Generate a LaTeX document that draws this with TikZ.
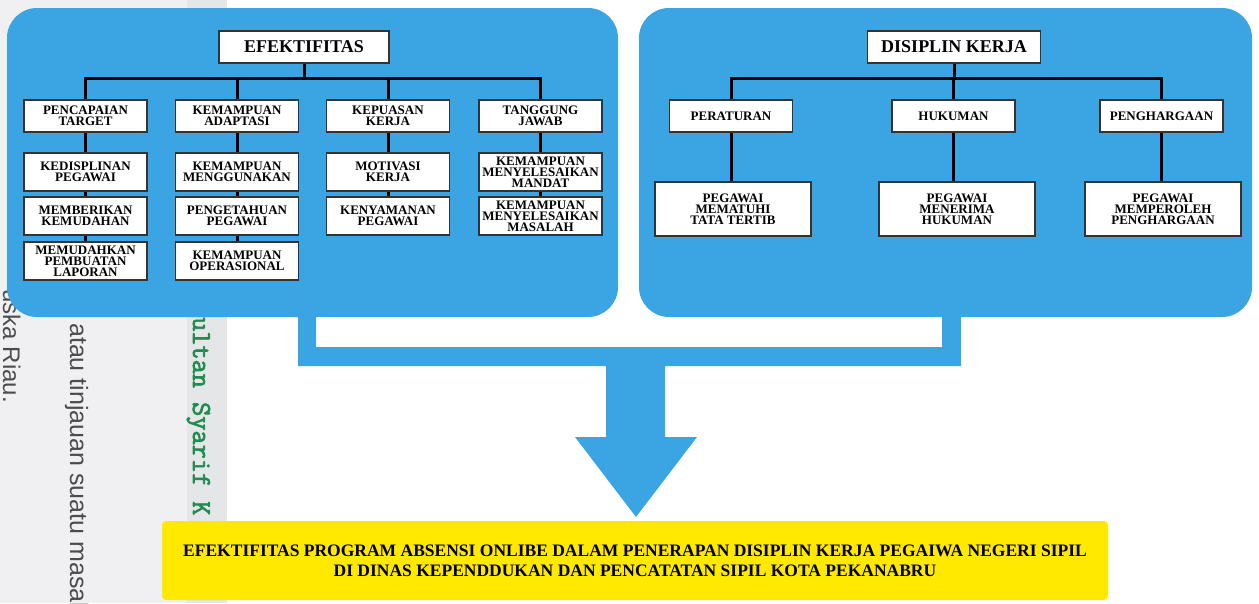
\documentclass[tikz,border=0pt]{standalone}
\usepackage{fontspec}
\setmainfont{Liberation Serif}
\setsansfont{Liberation Sans}
\newfontfamily\univfont[FakeBold=2.5]{Latin Modern Mono}
\usepackage{tikz}

\definecolor{panelblue}{RGB}{59,164,227}
\definecolor{resyellow}{RGB}{255,233,0}
\definecolor{pagegray}{RGB}{240,240,242}
\definecolor{stripgray}{RGB}{229,230,231}
\definecolor{univgreen}{RGB}{34,139,80}

\begin{document}
\begin{tikzpicture}[x=1pt,y=-1pt,
    itembox/.style={draw=black!80, line width=1.2pt, fill=white, inner sep=0pt,
      align=center, font=\bfseries\fontsize{13}{11}\selectfont},
    titlebox/.style={itembox, font=\bfseries\fontsize{18}{20}\selectfont},
    conn/.style={line width=3pt, black},
    pagetext/.style={rotate=-90, inner sep=0pt, anchor=base west}]
    \useasboundingbox (0,0) rectangle (1259,603);
    \clip (0,0) rectangle (1259,603);

    % Scanned page behind the figure
    \fill[pagegray] (0,0) rectangle (187,603);
    \fill[stripgray] (187,0) rectangle (227,603);
    \node[pagetext, anchor=base east, text=black!70, font=\sffamily\fontsize{24}{24}\selectfont] at (3,403) {uska Riau.};
    \node[pagetext, text=black!70, font=\sffamily\fontsize{25}{25}\selectfont] at (70,323) {atau tinjauan suatu masalah};
    \node[pagetext, text=univgreen, font=\univfont\fontsize{27.5}{27.5}\selectfont] at (193,317) {ultan Syarif K};

    % Bracket joining both panels and the big arrow down
    \fill[panelblue] (298,300) -- (316,300) -- (316,347) -- (942,347) -- (942,300) -- (961,300)
      -- (961,366) -- (665,366) -- (665,437) -- (697,437) -- (636,517) -- (575,437)
      -- (606,437) -- (606,366) -- (298,366) -- cycle;

    % Panels
    \fill[panelblue, rounded corners=30pt] (7,8) rectangle (618,317);
    \fill[panelblue, rounded corners=30pt] (639,8) rectangle (1252,317);

    % Left panel: efektifitas
    \node[titlebox, minimum width=170pt, minimum height=32pt] (eff) at (304,47) {EFEKTIFITAS};
    \coordinate (lbar) at (0,78);
    \foreach \n/\x/\t in {c1/85.5/{PENCAPAIAN\\TARGET}, c2/237/{KEMAMPUAN\\ADAPTASI},
                          c3/388/{KEPUASAN\\KERJA}, c4/540.5/{TANGGUNG\\JAWAB}} {
      \node[itembox, minimum width=123pt, minimum height=32pt] (\n) at (\x,116) {\t};
      \draw[conn] (eff.south) -- (eff.south |- lbar) -| (\n.north);
    }
    % Indicators under each dimension
    \foreach \n/\x/\y/\t in {c1a/85.5/172/{KEDISPLINAN\\PEGAWAI}, c1b/85.5/216/{MEMBERIKAN\\KEMUDAHAN},
                             c1c/85.5/261/{MEMUDAHKAN\\PEMBUATAN\\LAPORAN},
                             c2a/237/172/{KEMAMPUAN\\MENGGUNAKAN}, c2b/237/216/{PENGETAHUAN\\PEGAWAI},
                             c2c/237/261/{KEMAMPUAN\\OPERASIONAL},
                             c3a/388/172/{MOTIVASI\\KERJA}, c3b/388/216/{KENYAMANAN\\PEGAWAI},
                             c4a/540.5/172/{KEMAMPUAN\\MENYELESAIKAN\\MANDAT},
                             c4b/540.5/216/{KEMAMPUAN\\MENYELESAIKAN\\MASALAH}} {
      \node[itembox, minimum width=123pt, minimum height=38pt] (\n) at (\x,\y) {\t};
    }
    \foreach \a/\b in {c1/c1a, c1a/c1b, c1b/c1c, c2/c2a, c2a/c2b, c2b/c2c, c3/c3a, c3a/c3b, c4/c4a, c4a/c4b} {
      \draw[conn] (\a.south) -- (\b.north);
    }

    % Right panel: disiplin kerja
    \node[titlebox, minimum width=173pt, minimum height=32pt] (dis) at (954,47) {DISIPLIN KERJA};
    \coordinate (rbar) at (0,78);
    \foreach \n/\x/\t/\m/\mx/\mt in {per/731/{PERATURAN}/pera/733/{PEGAWAI\\MEMATUHI\\TATA TERTIB},
                                    huk/953.5/{HUKUMAN}/huka/957/{PEGAWAI\\MENERIMA\\HUKUMAN},
                                    phg/1161.5/{PENGHARGAAN}/phga/1163/{PEGAWAI\\MEMPEROLEH\\PENGHARGAAN}} {
      \node[itembox, minimum width=123pt, minimum height=32pt] (\n) at (\x,116) {\t};
      \node[itembox, minimum width=156pt, minimum height=54pt] (\m) at (\mx,209) {\mt};
      \draw[conn] (dis.south) -- (dis.south |- rbar) -| (\n.north);
      \draw[conn] (\n.south) -- (\n.south |- \m.north);
    }

    % Result
    \node[fill=resyellow, rounded corners=4pt, minimum width=946pt, minimum height=79pt, inner sep=0pt,
      align=center, font=\bfseries\fontsize{17.5}{20}\selectfont] (res) at (635,560.5)
      {EFEKTIFITAS PROGRAM ABSENSI ONLIBE DALAM PENERAPAN DISIPLIN KERJA PEGAIWA NEGERI SIPIL\\
       DI DINAS KEPENDDUKAN DAN PENCATATAN SIPIL KOTA PEKANABRU};
\end{tikzpicture}
\end{document}
